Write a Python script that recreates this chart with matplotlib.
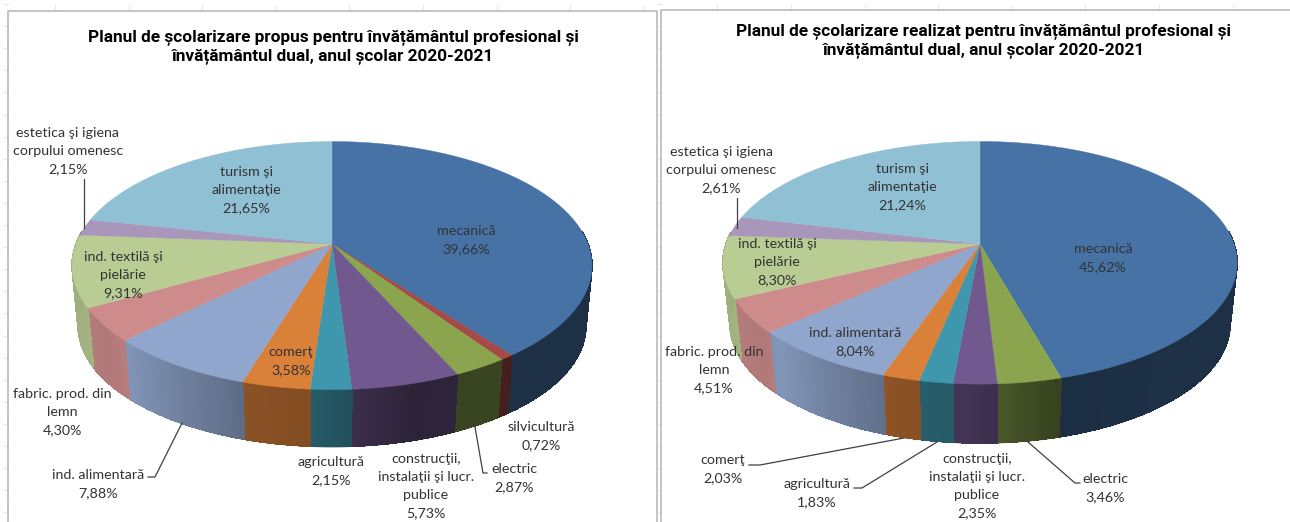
import numpy as np
import matplotlib
matplotlib.use('Agg')
import matplotlib.pyplot as plt
from matplotlib.patches import Polygon
from matplotlib.collections import LineCollection
from matplotlib.colors import to_rgb

# categorii, in ordinea de pe grafic (clockwise de sus)
categorii = ['mecanică', 'silvicultură', 'electric',
             'construcţii,\ninstalaţii şi lucr.\npublice', 'agricultură', 'comerţ',
             'ind. alimentară', 'fabric. prod. din\nlemn', 'ind. textilă şi\npielărie',
             'estetica şi igiena\ncorpului omenesc', 'turism şi\nalimentaţie']
propus = [39.66, 0.72, 2.87, 5.73, 2.15, 3.58, 7.88, 4.30, 9.31, 2.15, 21.65]
realizat = [45.62, 0.0, 3.46, 2.35, 1.83, 2.03, 8.04, 4.51, 8.30, 2.61, 21.24]
culori = ['#4672a5', '#a64a47', '#8aa54e', '#71588f', '#3f97ad', '#d98039',
          '#90a6cd', '#cd8c8b', '#b9cc93', '#a897bb', '#90c0d4']

titlu_propus = 'Planul de școlarizare propus pentru învățământul profesional și\nînvățământul dual, anul școlar 2020-2021'
titlu_realizat = 'Planul de școlarizare realizat pentru învățământul profesional și\nînvățământul dual, anul școlar 2020-2021'

# pozitii etichete (x, y centru), in pixeli
poz_propus = [(466, 240), (541, 436), (514, 478), (426, 486), (331, 471), (291, 361),
              (98, 484), (62, 412), (123, 275), (68, 151), (246, 190)]
poz_realizat = [(1103, 258), None, (1105, 488), (977, 486), (817, 493), (723, 469),
                (855, 342), (714, 370), (777, 262), (721, 170), (902, 187)]

linii_propus = [[(84, 179), (84, 228)], [(148, 477), (155, 477), (182, 423)],
                [(487, 473), (483, 473), (475, 427)]]
linii_realizat = [[(737, 198), (737, 228)], [(749, 465), (760, 465), (904, 438)],
                  [(854, 488), (862, 488), (937, 442)], [(1080, 483), (1075, 483), (1028, 442)]]

# umbrirea lateralei in functie de unghi
umbra_unghi = [0, 140, 165, 176, 184, 197, 200, 225, 232, 241, 274, 360]
umbra_val = [0.42, 0.42, 0.40, 0.52, 0.60, 0.64, 0.68, 0.90, 0.86, 0.88, 0.85, 0.85]


def proiectie(th, cx, cy, rx, ry, k):
    x = np.sin(th)
    y = np.cos(th)
    return cx + rx * x / (1 + k * y), cy - ry * y / (1 + k * y)


def pie3d(ax, valori, cx, sus, jos, k):
    cy, rx, ry = sus
    cyb, rxb, ryb = jos
    limite = np.cumsum([0] + valori) / sum(valori) * 360

    # lateral: patrulatere fara antialiasing, ca sa nu apara dungi
    seg = []
    seg_col = []
    for i in range(len(valori)):
        if valori[i] == 0:
            continue
        n = max(2, int((limite[i + 1] - limite[i]) / 0.5))
        a = np.linspace(limite[i], limite[i + 1], n + 1)
        for a0, a1 in zip(a[:-1], a[1:]):
            t = np.radians([a0, a1])
            xa, ya = proiectie(t, cx, cy, rx, ry, k)
            xb, yb = proiectie(t[::-1], cx, cyb, rxb, ryb, k)
            f = np.interp((a0 + a1) / 2, umbra_unghi, umbra_val)
            col = tuple(np.array(to_rgb(culori[i])) * f)
            if np.cos(np.radians((a0 + a1) / 2)) < 0.1:
                ax.add_patch(Polygon(np.c_[np.r_[xa, xb], np.r_[ya, yb]], fc=col, ec=col, lw=0.5,
                                     antialiased=False, zorder=2))
                seg.append(np.c_[xb, yb])
                seg_col.append(col)
    # marginea de jos, neteda
    ax.add_collection(LineCollection(seg, colors=seg_col, linewidths=1.0, zorder=2))

    # fata de sus
    for i in range(len(valori)):
        if valori[i] == 0:
            continue
        th = np.radians(np.linspace(limite[i], limite[i + 1], 200))
        xs, ys = proiectie(th, cx, cy, rx, ry, k)
        pts = np.c_[np.r_[cx, xs], np.r_[cy, ys]]
        ax.add_patch(Polygon(pts, fc=culori[i], ec=culori[i], lw=0.3, zorder=3))


def etichete(ax, valori, pozitii, linii):
    for nume, v, p in zip(categorii, valori, pozitii):
        if p is None:
            continue
        txt = nume + '\n' + f'{v:.2f}'.replace('.', ',') + '%'
        ax.text(p[0], p[1], txt, ha='center', va='center', fontsize=10.25, color='#333333',
                family='Lato', linespacing=1.58, zorder=5, clip_on=True)
    for l in linii:
        l = np.array(l)
        ax.plot(l[:, 0], l[:, 1], color='#404040', lw=0.9, zorder=4)


fig = plt.figure(figsize=(12.9, 5.22), dpi=100)
ax = fig.add_axes([0, 0, 1, 1])
ax.set_xlim(0, 1290)
ax.set_ylim(522, 0)
ax.axis('off')

# liniile foii de calcul, abia vizibile
for y in np.arange(4, 522, 22.1):
    ax.plot([4, 8], [y, y], color='#e6e6e6', lw=0.8, zorder=0)
    ax.plot([657, 661], [y, y], color='#e6e6e6', lw=0.8, zorder=0)
for x in np.arange(55, 1290, 73.6):
    ax.plot([x, x], [5, 10], color='#e6e6e6', lw=0.8, zorder=0)

# cadrele celor doua grafice
ax.plot([8, 8, 657, 657], [522, 11, 11, 522], color='#bfbfbf', lw=1.3, zorder=1)
ax.plot([661, 661, 1290], [522, 10, 10], color='#bfbfbf', lw=1.3, zorder=1)

pie3d(ax, propus, 332, (244, 256, 120.3), (305, 250, 117), 0.174)
pie3d(ax, realizat, 980, (244, 254, 118.4), (305.7, 247, 116), 0.155)

etichete(ax, propus, poz_propus, linii_propus)
etichete(ax, realizat, poz_realizat, linii_realizat)

ax.text(333, 46.5, titlu_propus, ha='center', va='center', fontsize=12.45, fontweight='bold',
        family='Roboto', color='black', linespacing=1.32, zorder=5)
ax.text(984, 40.5, titlu_realizat, ha='center', va='center', fontsize=12.45, fontweight='bold',
        family='Roboto', color='black', linespacing=1.32, zorder=5)

fig.savefig('out.png', dpi=100)
